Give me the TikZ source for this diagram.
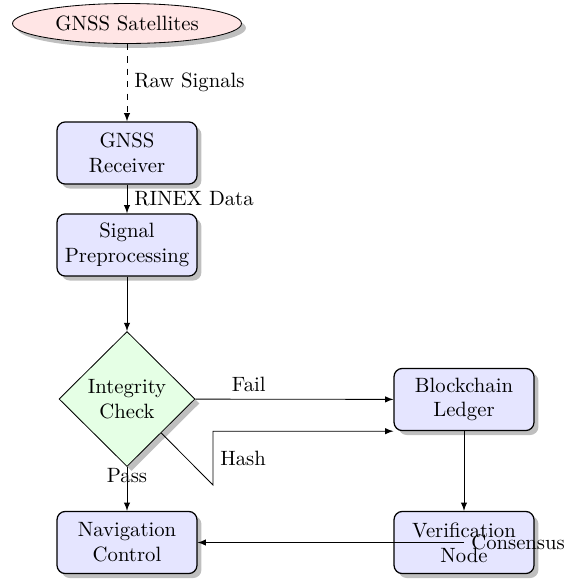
\documentclass[tikz,border=0pt]{standalone}
\usetikzlibrary{shapes.geometric,shadows,arrows}

\tikzset{every picture/.style={line width=0.4pt}}
\tikzset{
  srcnode/.style={ellipse, draw, fill=red!10, drop shadow, minimum width=110.6pt, minimum height=19.3pt, inner sep=0pt},
  procbox/.style={rectangle, rounded corners, draw, semithick, fill=blue!10, drop shadow, align=center, minimum width=67.6pt, minimum height=30pt, inner sep=0pt},
  checknode/.style={diamond, draw, fill=green!10, drop shadow, align=center, minimum width=65.7pt, minimum height=65.2pt, inner sep=0pt},
  flow/.style={-latex}
}

\begin{document}
\begin{tikzpicture}[x=0.483pt,y=0.483pt,yscale=-1,xscale=1]
\useasboundingbox (0,0) rectangle (585,582);

%Shape: Ellipse [id:sat]
\node [srcnode] (sat) at (127,23.5) {GNSS Satellites};
%Shape: Rounded Rect [id:receiver]
\node [procbox] (receiver) at (127,153) {GNSS\\Receiver};
%Shape: Rounded Rect [id:prep]
\node [procbox] (prep) at (127,245) {Signal\\Preprocessing};
%Shape: Diamond [id:check]
\node [checknode] (check) at (127,399) {Integrity\\Check};
%Shape: Rounded Rect [id:ledger]
\node [procbox] (ledger) at (464,399.5) {Blockchain\\Ledger};
%Shape: Rounded Rect [id:nav]
\node [procbox] (nav) at (127,542.5) {Navigation\\Control};
%Shape: Rounded Rect [id:verify]
\node [procbox] (verify) at (464,542.5) {Verification\\Node};
\coordinate (hashbend) at (213,485);

%Straight Lines [id:sat-receiver]
\draw [flow, dashed] (sat) -- node [right] {Raw Signals} (receiver);
%Straight Lines [id:receiver-prep]
\draw [flow] (receiver) -- node [right] {RINEX Data} (prep);
%Straight Lines [id:prep-check]
\draw [flow] (prep) -- (check);
%Straight Lines [id:check-ledger]
\draw [flow] (check) -- node [above, pos=0.27] {Fail} (ledger);
%Straight Lines [id:check-ledger-hash]
\draw [flow] (check.south east) -- (hashbend) |- node [right, pos=0.25] {Hash} (ledger.south west);
%Straight Lines [id:check-nav]
\draw [flow] (check) -- node [pos=0.2] {Pass} (nav);
%Straight Lines [id:ledger-verify]
\draw [flow] (ledger) -- (verify);
%Straight Lines [id:verify-nav]
\draw [flow] (verify.center) -- node [right, pos=0] {Consensus} (nav);

\end{tikzpicture}
\end{document}
